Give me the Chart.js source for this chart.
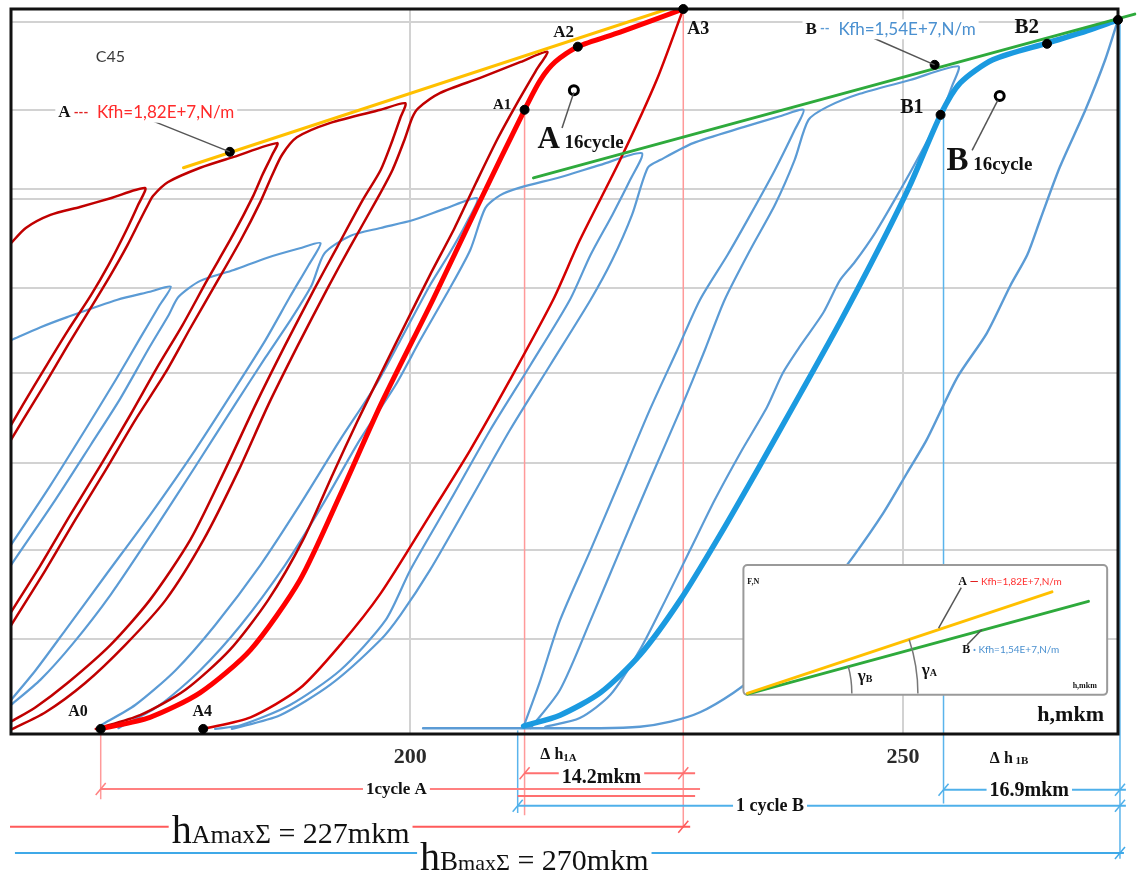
<!DOCTYPE html>
<html>
<head>
<meta charset="utf-8">
<script src="https://cdn.jsdelivr.net/npm/chart.js@4.4.1/dist/chart.umd.min.js"></script>
<style>
  html, body { margin: 0; padding: 0; background: #fff; }
  #wrap { width: 1140px; height: 881px; }
</style>
</head>
<body>
<div id="wrap"><canvas id="chart" width="1140" height="881"></canvas></div>
<script>
// axis values
const xTicks = [200, 250];
const yGrid = [13.1, 25.4, 37.4, 49.8, 61.5, 73.8, 75.2, 86.1, 98.2];

// series A (red): first loading and the unload / reload loops, points are [h, F]
const redStart = [[159.5,67.7],[161.0,69.8],[163.5,71.6],[166.5,72.7],[169.6,73.9],[173.1,75.3],[172.4,73.0],[171.1,69.2],[169.4,64.7],[167.6,60.5],[165.3,55.7],[163.0,50.6],[160.7,45.4],[158.9,41.2]];
const redCycle1 = [[158.6,38.5],[160.7,43.3],[163.0,48.4],[165.3,53.7],[167.6,58.8],[169.6,63.3],[171.3,67.4],[172.6,70.9],[173.4,73.0],[173.9,74.2],[175.4,76.1],[178.7,78.1],[182.1,79.6],[186.5,81.5],[186.0,79.9],[185.0,77.1],[184.1,74.3],[182.0,68.8],[179.4,62.6],[176.9,56.4],[174.3,50.5],[171.6,44.0],[168.6,37.1],[165.5,30.2],[162.5,23.3],[159.5,16.8],[158.4,14.3]];
const redCycle2 = [[158.4,12.7],[159.5,15.0],[163.0,22.6],[166.0,29.5],[169.1,36.4],[172.1,43.3],[175.2,49.9],[177.7,56.0],[180.2,61.9],[182.8,68.1],[184.8,73.4],[186.0,77.1],[187.0,79.9],[188.5,82.3],[191.9,84.3],[197.0,86.1],[199.5,87.0],[199.0,85.0],[198.2,81.9],[197.0,77.8],[195.2,73.7],[192.6,67.2],[190.2,61.2],[187.3,53.6],[184.3,45.4],[181.2,36.4],[177.7,26.8],[173.6,18.5],[169.6,12.3],[165.2,7.0],[162.0,3.7],[159.5,1.7]];
const redCycle3 = [[159.5,0.6],[163.0,3.0],[167.0,7.0],[171.1,12.3],[175.2,18.5],[179.0,26.7],[182.6,36.4],[185.6,45.4],[188.6,53.6],[191.5,61.2],[193.9,67.2],[196.6,73.7],[198.2,77.8],[199.4,81.9],[200.2,85.0],[200.8,86.3],[203.0,88.4],[207.1,90.5],[211.2,92.7],[213.9,94.1],[212.8,91.6],[211.0,87.4],[208.9,82.2],[206.7,76.1],[204.5,69.8],[202.0,63.3],[199.6,56.8],[197.2,50.2],[194.7,43.3],[192.1,35.7],[189.1,26.7],[185.6,18.5],[181.7,11.6],[177.2,6.1],[172.6,2.6],[168.1,0.7]];
const red16Load = [[168.6,0.7],[173.6,2.3],[178.7,5.7],[183.8,11.6],[188.8,21.2],[192.9,33.0],[197.0,45.4],[202.3,59.9],[206.9,73.0],[211.6,86.1],[213.2,90.2],[214.7,92.7],[217.0,94.8],[221.3,96.8],[227.7,100.0]];
const red16Unload = [[227.7,100.0],[225.0,90.2],[221.3,79.2],[217.2,68.1],[214.5,59.9],[210.1,48.8],[206.1,39.2],[202.0,30.2],[197.0,19.4],[192.9,12.3],[188.8,6.3],[183.8,2.3],[179.0,0.7]];

// series B (blue)
const blueStart = [[159.5,54.3],[162.5,56.1],[165.2,57.5],[170.3,59.9],[173.6,61.0],[175.7,61.7],[174.6,59.2],[172.6,54.6],[170.1,48.8],[167.0,41.9],[163.5,34.3],[159.5,26.1],[158.4,24.0]];
const blueCycle1 = [[158.4,21.0],[159.5,23.3],[164.0,32.3],[167.6,39.9],[170.6,46.3],[173.4,53.0],[175.5,57.8],[176.5,60.3],[178.7,62.5],[182.1,64.0],[185.5,65.7],[188.8,67.0],[190.9,67.7],[189.7,64.7],[187.8,60.3],[185.3,54.3],[182.1,47.4],[178.2,39.2],[173.6,30.2],[169.1,21.9],[165.0,14.3],[162.0,8.8],[159.5,4.7],[158.4,3.0]];
const blueCycle2 = [[159.5,4.0],[162.5,7.5],[165.8,12.5],[169.6,19.2],[174.0,28.1],[178.3,37.1],[182.2,45.4],[185.3,51.9],[188.0,57.4],[190.0,61.9],[191.3,66.3],[193.9,68.7],[197.0,69.8],[200.3,70.9],[203.6,72.5],[206.8,73.9],[205.6,70.2],[203.9,66.1],[202.0,61.9],[199.0,54.3],[196.5,48.1],[192.9,40.6],[188.8,31.6],[184.8,23.3],[180.2,15.0],[176.2,8.8],[172.1,4.0],[168.6,1.2]];
const blueCycle3 = [[170.4,0.8],[174.6,4.0],[178.7,8.8],[182.8,15.0],[187.3,23.3],[191.1,31.6],[194.9,40.6],[198.5,48.1],[201.0,54.3],[203.9,61.2],[206.1,66.8],[207.6,72.5],[209.1,74.3],[211.2,75.4],[215.2,76.8],[219.3,78.5],[223.5,80.1],[222.3,76.4],[220.5,71.6],[218.3,66.1],[216.2,59.9],[212.2,50.9],[208.1,41.9],[204.1,32.3],[200.0,22.6],[197.5,15.7],[192.9,8.8],[187.8,4.0],[182.8,1.2],[180.2,0.7]];
const blueCycle4 = [[181.9,0.7],[186.8,2.6],[191.9,6.8],[197.0,13.0],[199.0,16.4],[202.0,22.6],[206.1,32.3],[210.1,41.9],[214.2,50.9],[218.3,59.9],[220.5,65.4],[222.5,71.6],[224.1,78.1],[225.4,79.2],[228.7,81.5],[233.8,83.7],[237.5,85.2],[239.9,86.1],[239.0,83.3],[237.0,77.8],[234.5,71.6],[232.2,66.1],[229.4,59.9],[227.1,53.0],[224.3,44.7],[221.3,35.0],[218.3,25.4],[215.2,15.7],[213.2,7.4],[211.5,1.0]];
const blueCycle5 = [[212.2,0.8],[215.2,6.1],[218.3,15.7],[221.3,25.4],[224.3,35.0],[227.4,44.7],[229.9,53.0],[231.9,59.9],[234.5,66.8],[237.0,73.0],[239.0,79.2],[240.4,84.7],[242.3,86.5],[245.6,88.3],[250.7,90.2],[255.6,92.1],[255.0,89.5],[253.8,85.4],[251.7,79.9],[249.7,75.0],[247.2,69.2],[245.1,65.1],[243.6,62.6],[241.9,58.1],[239.6,53.6],[237.8,49.8],[236.2,45.1],[233.5,38.8],[230.9,32.3],[228.4,25.4],[225.9,18.5],[223.3,11.6],[220.3,5.4],[217.2,2.2],[213.7,1.0]];
const blue16Load = [[211.5,1.1],[215.2,2.6],[219.3,5.7],[223.3,10.9],[227.4,18.5],[231.4,27.4],[235.5,37.1],[239.6,47.0],[243.6,56.8],[247.7,67.4],[250.7,75.7],[253.8,85.4],[255.8,89.8],[259.1,93.0],[264.6,95.3],[268.0,96.7],[271.8,98.5]];
const blue16Unload = [[271.8,98.5],[270.5,93.0],[268.5,86.1],[265.9,78.2],[263.9,70.9],[262.6,66.1],[260.9,61.9],[258.5,55.3],[255.5,49.2],[252.4,40.6],[250.4,36.0],[248.0,30.5],[244.9,24.4],[241.6,18.5],[238.5,13.0],[235.5,8.6],[232.8,5.7],[229.4,3.0],[226.4,1.7],[223.3,1.0],[219.3,0.8],[201.3,0.8]];

// stiffness tangents Kfh
const tangentA = [[177.0,78.1],[226.1,100.0]];
const tangentB = [[212.5,76.7],[273.5,99.3]];
const insetA = [[234.2,5.6],[265.1,19.6]];
const insetB = [[234.2,5.5],[268.8,18.3]];

// marked points A0..A4, B1, B2
const markedPoints = [[181.7,80.3],[168.6,0.7],[179.0,0.7],[211.6,86.1],[217.0,94.8],[227.7,100.0],[253.2,92.3],[253.8,85.4],[264.6,95.2],[271.8,98.5]];
const ringPoints = [[216.6,88.8],[259.8,88.0]];

const SERIF = '"Liberation Serif", "Times New Roman", serif';
const SANS = 'Lato, "Open Sans", sans-serif';
const DARK_RED = '#c00000';
const STEEL = '#5b9bd5';

function xy(pts) { return pts.map(p => ({ x: p[0], y: p[1] })); }

function curve(label, pts, color, width, order, extra) {
  return Object.assign({
    label: label,
    data: xy(pts),
    showLine: true,
    borderColor: color,
    backgroundColor: color,
    borderWidth: width,
    pointRadius: 0,
    tension: 0.25,
    borderCapStyle: 'round',
    borderJoinStyle: 'round',
    order: order
  }, extra || {});
}

// guides and dimension lines, in chart units
const guides = [
  [211.6, 86.1, 211.6, -11.2, '#ff9a9a'],
  [227.7, 100, 227.7, -12.9, '#ff9a9a'],
  [168.6, 0.7, 168.6, -9.0, '#ff9a9a'],
  [254.1, 85.4, 254.1, -9.6, '#5ab4ec'],
  [272.0, 98.5, 272.0, -17.2, '#5ab4ec'],
  [210.9, 0.5, 210.9, -10.9, '#5ab4ec']
];
const dims = [
  [-5.4, 211.6, 228.9, '#ff7070', [211.6, 227.7]],
  [-7.6, 168.6, 229.4, '#ff8080', [168.6]],
  [-8.55, 210.9, 228.9, '#ff7070', []],
  [-9.9, 210.9, 272.6, '#4fb0ea', [210.9, 272.0]],
  [-7.7, 254.1, 272.6, '#4fb0ea', [254.1, 272.0]],
  [-12.8, 159.4, 228.4, '#ff5a5a', [227.7]],
  [-16.4, 159.9, 272.4, '#3fa9e8', [272.0]]
];
const leaders = [
  [173.6, 84.7, 181.7, 80.3],
  [246.8, 96.1, 253.2, 92.3],
  [215.4, 83.6, 216.6, 88.5],
  [257.0, 80.5, 259.6, 87.4],
  [255.9, 20.2, 253.6, 14.6],
  [256.5, 12.3, 258.0, 14.4]
];
const notes = [
  { x: 168.1, y: 93.4, parts: [['C45', '16px ' + SANS, '#3a3a3a']] },
  { x: 164.3, y: 85.7, bg: 20, parts: [['A', 'bold 17px ' + SERIF, '#111'], [' ---', 'bold 13px ' + SANS, '#e02020'], ['  Kfh=1,82E+7,N/m', '17px ' + SANS, '#ff2a2a']] },
  { x: 240.1, y: 97.2, bg: 20, parts: [['B', 'bold 17px ' + SERIF, '#111'], [' --', 'bold 13px ' + SANS, STEEL], ['  Kfh=1,54E+7,N/m', '17px ' + SANS, '#4a90d0']] },
  { x: 165.3, y: 3.0, parts: [['A0', 'bold 16px ' + SERIF, '#111']] },
  { x: 177.9, y: 3.0, parts: [['A4', 'bold 16px ' + SERIF, '#111']] },
  { x: 208.4, y: 86.8, parts: [['A1', 'bold 15px ' + SERIF, '#111']] },
  { x: 214.5, y: 96.8, parts: [['A2', 'bold 17px ' + SERIF, '#111']] },
  { x: 228.1, y: 97.2, parts: [['A3', 'bold 18px ' + SERIF, '#111']] },
  { x: 212.9, y: 80.8, base: 'alphabetic', parts: [['A', 'bold 31px ' + SERIF, '#111'], [' 16cycle', 'bold 19px ' + SERIF, '#111']] },
  { x: 249.7, y: 86.3, parts: [['B1', 'bold 20px ' + SERIF, '#111']] },
  { x: 261.3, y: 97.4, parts: [['B2', 'bold 21px ' + SERIF, '#111']] },
  { x: 254.4, y: 77.8, base: 'alphabetic', parts: [['B', 'bold 33px ' + SERIF, '#111'], [' 16cycle', 'bold 19px ' + SERIF, '#111']] },
  { x: 267.0, y: 2.6, align: 'center', parts: [['h,mkm', 'bold 22px ' + SERIF, '#111']] },
  { x: 213.2, y: -2.9, parts: [['\u0394 h', 'bold 16px ' + SERIF, '#111'], ['1A', 'bold 11px ' + SERIF, '#111', 3]] },
  { x: 219.4, y: -6.0, align: 'center', bg: 16, parts: [['14.2mkm', 'bold 20px ' + SERIF, '#111']] },
  { x: 198.6, y: -7.7, align: 'center', bg: 16, parts: [['1cycle A', 'bold 17px ' + SERIF, '#111']] },
  { x: 236.5, y: -10.0, align: 'center', bg: 18, parts: [['1 cycle B', 'bold 18px ' + SERIF, '#111']] },
  { x: 258.8, y: -3.4, parts: [['\u0394 h', 'bold 16px ' + SERIF, '#111'], [' 1B', 'bold 11px ' + SERIF, '#111', 3]] },
  { x: 262.8, y: -7.9, align: 'center', bg: 17, parts: [['16.9mkm', 'bold 20px ' + SERIF, '#111']] },
  { x: 175.8, y: -15.0, base: 'alphabetic', bg: 36, parts: [['h', '40px ' + SERIF, '#111'], ['Amax', '26px ' + SERIF, '#111'], ['\u03A3', '27px ' + SERIF, '#111'], [' = 227mkm', '30px ' + SERIF, '#111']] },
  { x: 201.0, y: -18.8, base: 'alphabetic', bg: 36, parts: [['h', '40px ' + SERIF, '#111'], ['B', '27px ' + SERIF, '#111'], ['max', '22px ' + SERIF, '#111'], ['\u03A3', '24px ' + SERIF, '#111'], [' = 270mkm', '30px ' + SERIF, '#111']] },
  // inset
  { x: 234.2, y: 21.0, parts: [['F,N', 'bold 8px ' + SERIF, '#111']] },
  { x: 255.6, y: 21.0, parts: [['A', 'bold 12px ' + SERIF, '#111'], [' \u2014 ', 'bold 11px ' + SANS, '#e02020'], ['Kfh=1,82E+7,N/m', '10px ' + SANS, '#ff3030']] },
  { x: 256.0, y: 11.6, parts: [['B', 'bold 12px ' + SERIF, '#111'], [' \u00B7 ', 'bold 11px ' + SANS, STEEL], ['Kfh=1,54E+7,N/m', '10px ' + SANS, '#4a90d0']] },
  { x: 245.4, y: 7.9, parts: [['\u03B3', 'bold 17px ' + SERIF, '#111'], ['B', 'bold 10px ' + SERIF, '#111', 3]] },
  { x: 251.9, y: 8.8, parts: [['\u03B3', 'bold 17px ' + SERIF, '#111'], ['A', 'bold 10px ' + SERIF, '#111', 3]] },
  { x: 267.2, y: 6.6, parts: [['h,mkm', 'bold 8px ' + SERIF, '#111']] }
];
const insetBox = { x1: 233.8, x2: 270.7, y1: 23.3, y2: 5.4 };
const insetArcs = [244.8, 251.5];

function richText(ctx, x, y, n) {
  ctx.textBaseline = n.base || 'middle';
  let w = 0;
  n.parts.forEach(p => { ctx.font = p[1]; w += ctx.measureText(p[0]).width; });
  let sx = n.align === 'center' ? x - w / 2 : x;
  if (n.bg) {
    ctx.fillStyle = '#fff';
    const top = n.base === 'alphabetic' ? y - n.bg * 0.78 : y - n.bg / 2;
    ctx.fillRect(sx - 3, top, w + 6, n.bg);
  }
  n.parts.forEach(p => {
    ctx.font = p[1];
    ctx.fillStyle = p[2];
    ctx.fillText(p[0], sx, y + (p[3] || 0));
    sx += ctx.measureText(p[0]).width;
  });
}

const annotate = {
  id: 'annotate',
  beforeDatasetsDraw(chart) {
    const ctx = chart.ctx, X = chart.scales.x, Y = chart.scales.y;
    chart.$boxDone = false;
    chart.$frameDone = false;
    ctx.save();
    ctx.lineWidth = 1.5;
    guides.forEach(g => {
      ctx.strokeStyle = g[4];
      ctx.beginPath();
      ctx.moveTo(X.getPixelForValue(g[0]), Y.getPixelForValue(g[1]));
      ctx.lineTo(X.getPixelForValue(g[2]), Y.getPixelForValue(g[3]));
      ctx.stroke();
    });
    ctx.restore();
  },
  beforeDatasetDraw(chart, args) {
    const ds = chart.data.datasets[args.index];
    const ctx = chart.ctx, X = chart.scales.x, Y = chart.scales.y, a = chart.chartArea;
    if (ds.inset && !chart.$boxDone) {
      chart.$boxDone = true;
      const l = X.getPixelForValue(insetBox.x1), r = X.getPixelForValue(insetBox.x2);
      const t = Y.getPixelForValue(insetBox.y1), b = Y.getPixelForValue(insetBox.y2);
      ctx.save();
      ctx.fillStyle = '#fff';
      ctx.strokeStyle = '#9a9a9a';
      ctx.lineWidth = 2;
      ctx.beginPath();
      ctx.roundRect(l, t, r - l, b - t, 4);
      ctx.fill();
      ctx.stroke();
      ctx.restore();
    }
    if (ds.dots && !chart.$frameDone) {
      chart.$frameDone = true;
      ctx.save();
      ctx.strokeStyle = '#111';
      ctx.lineWidth = 3;
      ctx.strokeRect(a.left, a.top, a.right - a.left, a.bottom - a.top);
      ctx.restore();
    }
  },
  afterDraw(chart) {
    const ctx = chart.ctx, X = chart.scales.x, Y = chart.scales.y;
    ctx.save();
    // inset angle arcs
    const cx = X.getPixelForValue(insetA[0][0]), cy = Y.getPixelForValue(insetA[0][1]);
    const angA = Math.atan2(Y.getPixelForValue(insetA[1][1]) - cy, X.getPixelForValue(insetA[1][0]) - cx);
    const angB = Math.atan2(Y.getPixelForValue(insetB[1][1]) - cy, X.getPixelForValue(insetB[1][0]) - cx);
    ctx.strokeStyle = '#777';
    ctx.lineWidth = 1.5;
    [[insetArcs[0], angB], [insetArcs[1], angA]].forEach(([v, ang]) => {
      const rad = X.getPixelForValue(v) - cx;
      ctx.beginPath();
      ctx.arc(cx, cy, rad, ang, 0);
      ctx.stroke();
    });
    // leader lines
    ctx.strokeStyle = '#555';
    ctx.lineWidth = 1.5;
    leaders.forEach(l => {
      ctx.beginPath();
      ctx.moveTo(X.getPixelForValue(l[0]), Y.getPixelForValue(l[1]));
      ctx.lineTo(X.getPixelForValue(l[2]), Y.getPixelForValue(l[3]));
      ctx.stroke();
    });
    // dimension lines under the axis
    dims.forEach(d => {
      const y = Y.getPixelForValue(d[0]);
      ctx.strokeStyle = d[3];
      ctx.lineWidth = 2;
      ctx.beginPath();
      ctx.moveTo(X.getPixelForValue(d[1]), y);
      ctx.lineTo(X.getPixelForValue(d[2]), y);
      ctx.stroke();
      ctx.lineWidth = 1.5;
      d[4].forEach(v => {
        const x = X.getPixelForValue(v);
        ctx.beginPath();
        ctx.moveTo(x - 5, y + 6);
        ctx.lineTo(x + 5, y - 6);
        ctx.stroke();
      });
    });
    notes.forEach(n => richText(ctx, X.getPixelForValue(n.x), Y.getPixelForValue(n.y), n));
    ctx.restore();
  }
};

const datasets = [
  curve('B start', blueStart, STEEL, 2.2, 7),
  curve('B cycle 1', blueCycle1, STEEL, 2.2, 7),
  curve('B cycle 2', blueCycle2, STEEL, 2.2, 7),
  curve('B cycle 3', blueCycle3, STEEL, 2.2, 7),
  curve('B cycle 4', blueCycle4, STEEL, 2.2, 7),
  curve('B cycle 5', blueCycle5, STEEL, 2.2, 7),
  curve('B 16 unload', blue16Unload, STEEL, 2.4, 7),
  curve('A start', redStart, DARK_RED, 2.5, 6),
  curve('A cycle 1', redCycle1, DARK_RED, 2.5, 6),
  curve('A cycle 2', redCycle2, DARK_RED, 2.5, 6),
  curve('A cycle 3', redCycle3, DARK_RED, 2.5, 6),
  curve('A 16 unload', red16Unload, '#d40000', 2.5, 6),
  curve('B 16cycle', blue16Load, '#1b9ae0', 5.5, 5),
  curve('A 16cycle', red16Load, '#ff0000', 5, 5),
  curve('Kfh A', tangentA, '#ffc000', 3, 4, { tension: 0 }),
  curve('Kfh B', tangentB, '#2eaa3c', 3, 4, { tension: 0, clip: false }),
  curve('inset A', insetA, '#ffc000', 3, 2, { tension: 0, inset: true }),
  curve('inset B', insetB, '#2eaa3c', 3, 2, { tension: 0, inset: true }),
  { label: 'points', data: xy(markedPoints), showLine: false, pointRadius: 4.5, pointBackgroundColor: '#000', pointBorderColor: '#000', pointBorderWidth: 1, order: 1, clip: false, dots: true },
  { label: 'rings', data: xy(ringPoints), showLine: false, pointRadius: 4.5, pointBackgroundColor: '#fff', pointBorderColor: '#000', pointBorderWidth: 3, order: 1, clip: false, dots: true }
];

new Chart(document.getElementById('chart'), {
  type: 'scatter',
  data: { datasets: datasets },
  options: {
    responsive: false,
    animation: false,
    devicePixelRatio: 1,
    events: [],
    layout: { padding: { left: 11, top: 9, right: 22, bottom: 0 } },
    plugins: { legend: { display: false }, tooltip: { enabled: false } },
    scales: {
      x: {
        type: 'linear',
        min: 159.5,
        max: 271.8,
        afterBuildTicks: s => { s.ticks = xTicks.map(v => ({ value: v })); },
        afterFit: s => { s.height = 147; },
        grid: { color: '#d2d2d2', lineWidth: 2, drawTicks: false },
        border: { display: false },
        ticks: { padding: 10, color: '#2a2a2a', font: { family: SERIF, size: 22, weight: 'bold' } }
      },
      y: {
        type: 'linear',
        min: 0,
        max: 100,
        afterBuildTicks: s => { s.ticks = yGrid.map(v => ({ value: v })); },
        afterFit: s => { s.width = 0; },
        grid: { color: '#d2d2d2', lineWidth: 2, drawTicks: false },
        border: { display: false },
        ticks: { display: false }
      }
    }
  },
  plugins: [annotate]
});
</script>
</body>
</html>
